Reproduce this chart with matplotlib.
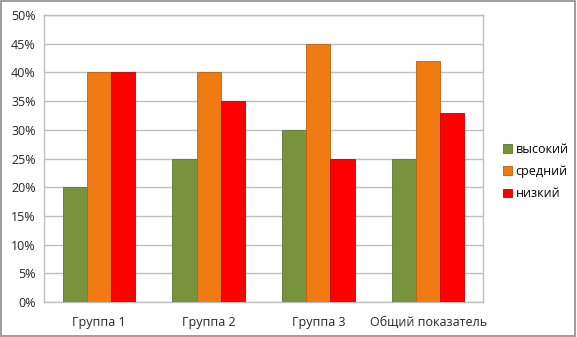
import matplotlib
matplotlib.use("Agg")
import matplotlib.pyplot as plt
import numpy as np
from matplotlib.patches import Rectangle

categories = ["Группа 1", "Группа 2", "Группа 3", "Общий показатель"]
series_names = ["высокий", "средний", "низкий"]
high = [20, 25, 30, 25]
mid = [40, 40, 45, 42]
low = [40, 35, 25, 33]
colors = ["#77933C", "#F07B12", "#FF0000"]
edge = ["#5E7530", "#C0620E", "#C00000"]

plt.rcParams['font.family'] = ['Open Sans', 'DejaVu Sans']

fig = plt.figure(figsize=(5.77, 3.37), dpi=100)
ax = fig.add_axes([44/577, 1-302/337, 439/577, 287/337])

x = np.arange(len(categories))
w = 0.22
for i, (vals, c, e, n) in enumerate(zip([high, mid, low], colors, edge, series_names)):
    ax.bar(x + (i-1)*w, vals, width=w, color=c, edgecolor=e, linewidth=0.6, label=n, zorder=3)

ax.set_xlim(-0.5, 3.5)
ax.set_ylim(0, 50)
ax.set_yticks(range(0, 51, 5))
ax.set_yticklabels([f"{v}%" for v in range(0, 51, 5)])
ax.set_xticks(x)
ax.set_xticklabels(categories)
ax.yaxis.grid(True, color="#BFBFBF", linewidth=1, zorder=0)
ax.tick_params(axis='both', length=0, labelsize=9, colors="#262626", pad=6)
ax.tick_params(axis='x', pad=10)
for s in ax.spines.values():
    s.set_color("#BFBFBF")
    s.set_linewidth(1)

leg = ax.legend(loc='center left', bbox_to_anchor=(1.02, 0.455), frameon=False,
                fontsize=9, handlelength=0.7, handleheight=0.7, labelspacing=0.75,
                handletextpad=0.3)

fig.patches.append(Rectangle((0.002, 0.003), 0.994, 0.994, transform=fig.transFigure,
                             fill=False, edgecolor="#8C8C8C", linewidth=1.2))
fig.savefig("out.png", dpi=100)
